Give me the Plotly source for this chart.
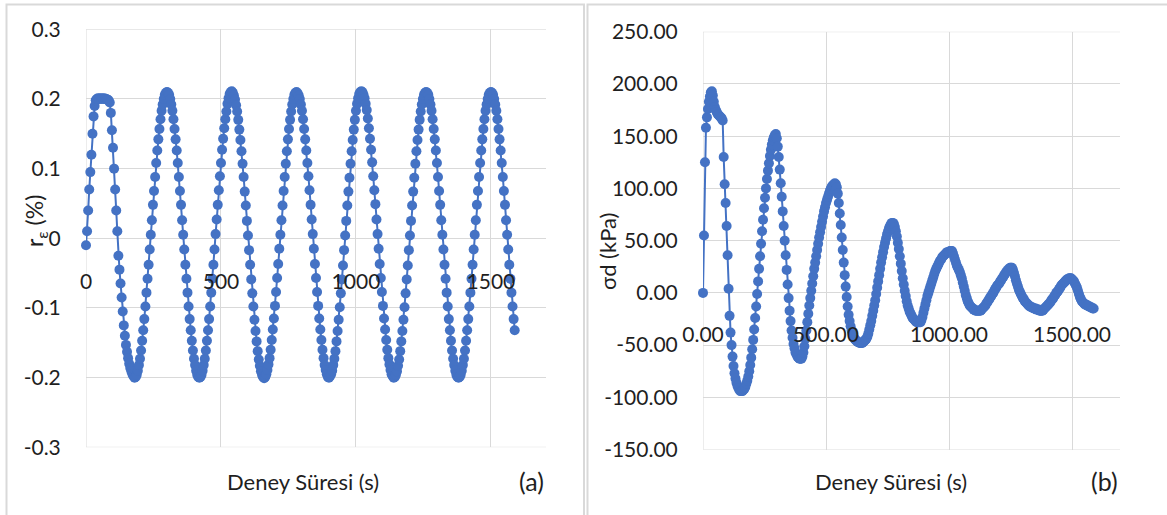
import plotly.graph_objects as go

# ---------------- data ----------------
time_s = [
    0, 4, 8, 12, 16, 20, 24, 28, 32, 36, 40, 44, 48, 52, 56, 60, 64, 68, 72, 76,
    80, 84, 88, 92, 96, 100, 104, 108, 112, 116, 120, 124, 128, 132, 136, 140, 144, 148, 152, 156,
    160, 164, 168, 172, 176, 180, 184, 188, 192, 196, 200, 204, 208, 212, 216, 220, 224, 228, 232, 236,
    240, 244, 248, 252, 256, 260, 264, 268, 272, 276, 280, 284, 288, 292, 296, 300, 304, 308, 312, 316,
    320, 324, 328, 332, 336, 340, 344, 348, 352, 356, 360, 364, 368, 372, 376, 380, 384, 388, 392, 396,
    400, 404, 408, 412, 416, 420, 424, 428, 432, 436, 440, 444, 448, 452, 456, 460, 464, 468, 472, 476,
    480, 484, 488, 492, 496, 500, 504, 508, 512, 516, 520, 524, 528, 532, 536, 540, 544, 548, 552, 556,
    560, 564, 568, 572, 576, 580, 584, 588, 592, 596, 600, 604, 608, 612, 616, 620, 624, 628, 632, 636,
    640, 644, 648, 652, 656, 660, 664, 668, 672, 676, 680, 684, 688, 692, 696, 700, 704, 708, 712, 716,
    720, 724, 728, 732, 736, 740, 744, 748, 752, 756, 760, 764, 768, 772, 776, 780, 784, 788, 792, 796,
    800, 804, 808, 812, 816, 820, 824, 828, 832, 836, 840, 844, 848, 852, 856, 860, 864, 868, 872, 876,
    880, 884, 888, 892, 896, 900, 904, 908, 912, 916, 920, 924, 928, 932, 936, 940, 944, 948, 952, 956,
    960, 964, 968, 972, 976, 980, 984, 988, 992, 996, 1000, 1004, 1008, 1012, 1016, 1020, 1024, 1028, 1032, 1036,
    1040, 1044, 1048, 1052, 1056, 1060, 1064, 1068, 1072, 1076, 1080, 1084, 1088, 1092, 1096, 1100, 1104, 1108, 1112, 1116,
    1120, 1124, 1128, 1132, 1136, 1140, 1144, 1148, 1152, 1156, 1160, 1164, 1168, 1172, 1176, 1180, 1184, 1188, 1192, 1196,
    1200, 1204, 1208, 1212, 1216, 1220, 1224, 1228, 1232, 1236, 1240, 1244, 1248, 1252, 1256, 1260, 1264, 1268, 1272, 1276,
    1280, 1284, 1288, 1292, 1296, 1300, 1304, 1308, 1312, 1316, 1320, 1324, 1328, 1332, 1336, 1340, 1344, 1348, 1352, 1356,
    1360, 1364, 1368, 1372, 1376, 1380, 1384, 1388, 1392, 1396, 1400, 1404, 1408, 1412, 1416, 1420, 1424, 1428, 1432, 1436,
    1440, 1444, 1448, 1452, 1456, 1460, 1464, 1468, 1472, 1476, 1480, 1484, 1488, 1492, 1496, 1500, 1504, 1508, 1512, 1516,
    1520, 1524, 1528, 1532, 1536, 1540, 1544, 1548, 1552, 1556, 1560, 1564, 1568, 1572, 1576, 1580, 1584, 1588,
]

strain_pct = [
    -0.010, 0.010, 0.040, 0.070, 0.095, 0.120, 0.150, 0.175, 0.190, 0.198, 0.200, 0.201, 0.200, 0.201, 0.200, 0.201, 0.200, 0.201, 0.200, 0.200,
    0.199, 0.198, 0.195, 0.180, 0.155, 0.130, 0.100, 0.070, 0.040, 0.010, -0.025, -0.045, -0.065, -0.085, -0.105, -0.125, -0.140, -0.153, -0.163, -0.172,
    -0.180, -0.186, -0.191, -0.195, -0.198, -0.200, -0.199, -0.196, -0.190, -0.182, -0.173, -0.161, -0.147, -0.132, -0.116, -0.098, -0.078, -0.058, -0.038, -0.016,
    0.005, 0.026, 0.048, 0.068, 0.088, 0.108, 0.126, 0.142, 0.157, 0.171, 0.183, 0.192, 0.200, 0.206, 0.209, 0.210, 0.209, 0.206, 0.200, 0.192,
    0.183, 0.171, 0.157, 0.142, 0.126, 0.108, 0.088, 0.068, 0.048, 0.026, 0.005, -0.016, -0.038, -0.058, -0.078, -0.098, -0.116, -0.132, -0.147, -0.161,
    -0.173, -0.182, -0.190, -0.196, -0.199, -0.200, -0.199, -0.196, -0.190, -0.182, -0.173, -0.161, -0.147, -0.132, -0.116, -0.098, -0.078, -0.058, -0.038, -0.016,
    0.006, 0.027, 0.048, 0.069, 0.089, 0.108, 0.127, 0.143, 0.158, 0.171, 0.182, 0.193, 0.201, 0.207, 0.210, 0.211, 0.209, 0.205, 0.199, 0.191,
    0.182, 0.170, 0.156, 0.141, 0.125, 0.107, 0.088, 0.067, 0.047, 0.025, 0.004, -0.017, -0.038, -0.059, -0.079, -0.098, -0.117, -0.133, -0.148, -0.162,
    -0.174, -0.183, -0.191, -0.196, -0.199, -0.201, -0.199, -0.195, -0.189, -0.181, -0.172, -0.160, -0.146, -0.131, -0.115, -0.097, -0.077, -0.057, -0.037, -0.015,
    0.005, 0.026, 0.047, 0.068, 0.088, 0.107, 0.125, 0.142, 0.157, 0.170, 0.182, 0.192, 0.200, 0.206, 0.209, 0.210, 0.208, 0.205, 0.200, 0.192,
    0.183, 0.171, 0.157, 0.142, 0.126, 0.108, 0.089, 0.069, 0.048, 0.027, 0.006, -0.015, -0.037, -0.057, -0.077, -0.097, -0.115, -0.131, -0.146, -0.160,
    -0.172, -0.182, -0.189, -0.195, -0.199, -0.200, -0.198, -0.195, -0.190, -0.182, -0.173, -0.162, -0.148, -0.133, -0.117, -0.099, -0.079, -0.059, -0.039, -0.017,
    0.004, 0.025, 0.047, 0.067, 0.087, 0.107, 0.125, 0.141, 0.156, 0.170, 0.183, 0.193, 0.201, 0.207, 0.210, 0.211, 0.210, 0.206, 0.201, 0.193,
    0.184, 0.172, 0.158, 0.143, 0.127, 0.109, 0.089, 0.069, 0.049, 0.027, 0.006, -0.015, -0.037, -0.057, -0.077, -0.097, -0.115, -0.131, -0.146, -0.160,
    -0.172, -0.181, -0.189, -0.195, -0.198, -0.200, -0.199, -0.196, -0.191, -0.183, -0.174, -0.162, -0.148, -0.133, -0.117, -0.099, -0.079, -0.059, -0.039, -0.017,
    0.004, 0.025, 0.047, 0.067, 0.087, 0.107, 0.125, 0.141, 0.156, 0.170, 0.182, 0.192, 0.200, 0.206, 0.209, 0.210, 0.209, 0.206, 0.200, 0.192,
    0.183, 0.171, 0.157, 0.142, 0.126, 0.108, 0.088, 0.068, 0.048, 0.026, 0.005, -0.016, -0.038, -0.058, -0.078, -0.098, -0.116, -0.132, -0.147, -0.161,
    -0.173, -0.182, -0.190, -0.196, -0.199, -0.200, -0.199, -0.196, -0.190, -0.182, -0.173, -0.161, -0.147, -0.132, -0.116, -0.098, -0.078, -0.058, -0.038, -0.016,
    0.005, 0.026, 0.048, 0.068, 0.088, 0.108, 0.126, 0.142, 0.157, 0.171, 0.183, 0.192, 0.200, 0.206, 0.209, 0.210, 0.209, 0.206, 0.200, 0.192,
    0.183, 0.171, 0.157, 0.142, 0.126, 0.108, 0.088, 0.068, 0.048, 0.026, 0.005, -0.016, -0.038, -0.058, -0.078, -0.098, -0.116, -0.132,
]

stress_kpa = [
    0, 55, 125, 158, 168, 176, 183, 188, 192, 193, 189, 183, 178, 175, 173, 171, 170, 169, 168, 167,
    165, 130, 104, 86, 64, 36, 4, -22, -38, -50, -61, -70, -77, -82, -86, -89, -91, -93, -94, -94,
    -94, -93, -92, -90, -87, -84, -80, -75, -69, -62, -54, -45, -35, -24, -13, -1, 11, 23, 35, 47,
    59, 70, 81, 91, 100, 109, 117, 124, 131, 137, 142, 146, 149, 151, 152, 148, 140, 130, 118, 105,
    92, 78, 64, 50, 36, 22, 8, -5, -17, -27, -36, -43, -49, -53, -57, -59, -61, -62, -63, -63,
    -63, -61, -57, -51, -44, -36, -28, -20, -12, -5, 2, 9, 16, 23, 29, 35, 41, 47, 53, 58,
    63, 68, 73, 78, 82, 86, 89, 92, 95, 98, 100, 102, 103, 104, 105, 104, 101, 95, 86, 76,
    65, 53, 41, 29, 17, 6, -4, -13, -21, -27, -32, -36, -39, -42, -44, -45, -46, -47, -47, -48,
    -48, -48, -48, -47, -46, -45, -44, -42, -39, -35, -31, -27, -22, -17, -12, -7, -1, 5, 11, 17,
    23, 29, 34, 39, 44, 48, 52, 56, 59, 62, 64, 66, 67, 67, 66, 63, 59, 54, 48, 42,
    35, 28, 21, 14, 8, 2, -3, -8, -12, -15, -18, -20, -22, -24, -25, -26, -27, -28, -28, -28,
    -28, -28, -26, -23, -19, -15, -11, -7, -3, 0, 3, 6, 9, 12, 15, 18, 21, 23, 25, 27,
    29, 31, 32, 34, 35, 36, 37, 38, 39, 39, 39, 40, 40, 40, 38, 35, 32, 29, 26, 24,
    22, 20, 17, 14, 10, 6, 2, -2, -5, -8, -10, -12, -13, -14, -15, -16, -16, -17, -17, -17,
    -17, -17, -17, -16, -15, -14, -13, -12, -10, -9, -7, -6, -4, -3, -1, 0, 2, 4, 5, 7,
    8, 9, 11, 12, 14, 15, 17, 18, 20, 21, 22, 23, 24, 24, 24, 22, 19, 16, 12, 9,
    6, 3, 1, -1, -3, -5, -6, -8, -9, -10, -11, -12, -13, -13, -14, -14, -15, -15, -15, -16,
    -16, -16, -17, -17, -17, -17, -16, -15, -14, -13, -12, -11, -10, -9, -7, -6, -5, -3, -2, 0,
    1, 2, 4, 5, 7, 8, 9, 10, 11, 12, 13, 13, 14, 14, 14, 13, 12, 11, 9, 7,
    5, 2, -1, -4, -6, -8, -9, -10, -11, -11, -12, -12, -13, -13, -14, -14, -15, -15,
]

x_tick_vals = [0, 500, 1000, 1500]
x_tick_text_a = ["0", "500", "1000", "1500"]
x_tick_text_b = ["0.00", "500.00", "1000.00", "1500.00"]
y_tick_vals_a = [-0.3, -0.2, -0.1, 0, 0.1, 0.2, 0.3]
y_tick_text_a = ["-0.3", "-0.2", "-0.1", "0", "0.1", "0.2", "0.3"]
y_tick_vals_b = [-150, -100, -50, 0, 50, 100, 150, 200, 250]
y_tick_text_b = ["-150.00", "-100.00", "-50.00", "0.00", "50.00", "100.00", "150.00", "200.00", "250.00"]
x_range_a = [0, 1704]
x_range_b = [0, 1695]
y_range_a = [-0.3, 0.3]
y_range_b = [-150, 250]

# ---------------- styling ----------------
W, H = 1167, 515
BLUE = "#4472C4"
GRID = "#D9D9D9"
TXT = "#1F1F1F"
FONT = "Lato, 'Open Sans', sans-serif"


def fx(p):
    return p / W


def fy(p):
    return 1 - p / H


fig = go.Figure()
fig.add_trace(go.Scatter(
    x=time_s, y=strain_pct, mode="lines+markers",
    line=dict(color=BLUE, width=2), marker=dict(color=BLUE, size=10),
    xaxis="x", yaxis="y", cliponaxis=False, showlegend=False,
))
fig.add_trace(go.Scatter(
    x=time_s, y=stress_kpa, mode="lines+markers",
    line=dict(color=BLUE, width=2), marker=dict(color=BLUE, size=10),
    xaxis="x2", yaxis="y2", cliponaxis=False, showlegend=False,
))

common_x = dict(
    showgrid=True, gridcolor=GRID, gridwidth=1, zeroline=False, showline=False,
    ticks="outside", ticklen=24, tickcolor="rgba(0,0,0,0)", automargin=False,
    tickfont=dict(size=21, color=TXT, family=FONT), anchor="free",
)
common_y = dict(
    showgrid=True, gridcolor=GRID, gridwidth=1, zeroline=False, showline=False,
    ticks="outside", ticklen=21, tickcolor="rgba(0,0,0,0)", automargin=False,
    tickfont=dict(size=21, color=TXT, family=FONT), anchor="free",
)

fig.update_layout(
    width=W, height=H, autosize=False,
    margin=dict(l=0, r=0, t=0, b=0, pad=0, autoexpand=False),
    paper_bgcolor="white", plot_bgcolor="white",
    font=dict(family=FONT, color=TXT),
    xaxis=dict(domain=[fx(86), fx(546)], range=x_range_a, tickvals=x_tick_vals,
               ticktext=x_tick_text_a, position=fy(238.3), **common_x),
    yaxis=dict(domain=[fy(447.3), fy(29.3)], range=y_range_a, tickvals=y_tick_vals_a,
               ticktext=y_tick_text_a, position=fx(86), **common_y),
    xaxis2=dict(domain=[fx(703), fx(1120)], range=x_range_b, tickvals=x_tick_vals,
                ticktext=x_tick_text_b, position=fy(292), **common_x),
    yaxis2=dict(domain=[fy(449.6), fy(31.7)], range=y_range_b, tickvals=y_tick_vals_b,
                ticktext=y_tick_text_b, position=fx(703), **common_y),
)

ann_font = dict(family=FONT, color=TXT, size=22)
annotations = [
    dict(text="Deney Süresi (s)", x=fx(303), y=fy(481), font=ann_font),
    dict(text="(a)", x=fx(531), y=fy(481), font=dict(family=FONT, color=TXT, size=25)),
    dict(text="Deney Süresi (s)", x=fx(891), y=fy(481), font=ann_font),
    dict(text="(b)", x=fx(1104), y=fy(481), font=dict(family=FONT, color=TXT, size=25)),
    dict(text="r<sub>ε</sub> (%)", x=fx(35), y=fy(221), textangle=-90, font=dict(family=FONT, color=TXT, size=23)),
    dict(text="σd (kPa)", x=fx(608), y=fy(252), textangle=-90, font=ann_font),
]
for a in annotations:
    a.update(xref="paper", yref="paper", showarrow=False, xanchor="center", yanchor="middle")
fig.update_layout(annotations=annotations)

grid_line = dict(color=GRID, width=1)
shapes = [
    dict(type="rect", xref="paper", yref="paper", x0=fx(6.5), x1=fx(584), y0=fy(530), y1=fy(4.5),
         line=dict(color=GRID, width=2), fillcolor="rgba(0,0,0,0)", layer="below"),
    dict(type="rect", xref="paper", yref="paper", x0=fx(587.5), x1=fx(1180), y0=fy(530), y1=fy(4.5),
         line=dict(color=GRID, width=2), fillcolor="rgba(0,0,0,0)", layer="below"),
]
# boundary grid lines (Plotly hides the gridlines that sit on the range edges)
for xr, yr, xa, ya in [(x_range_a, y_range_a, "x", "y"), (x_range_b, y_range_b, "x2", "y2")]:
    shapes.append(dict(type="line", xref=xa, yref=ya, x0=xr[0], x1=xr[0], y0=yr[0], y1=yr[1],
                       line=grid_line, layer="below"))
    for yv in yr:
        shapes.append(dict(type="line", xref=xa, yref=ya, x0=xr[0], x1=xr[1], y0=yv, y1=yv,
                           line=grid_line, layer="below"))
fig.update_layout(shapes=shapes)

fig.write_html("out.html")
